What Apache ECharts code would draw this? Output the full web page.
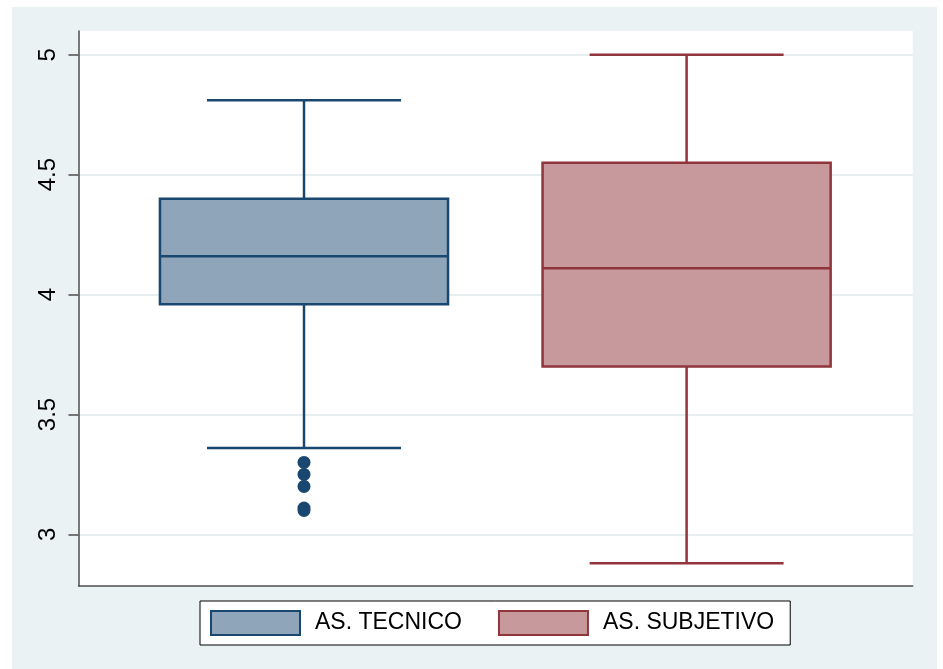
<!DOCTYPE html>
<html>
<head>
<meta charset="utf-8">
<script src="https://cdn.jsdelivr.net/npm/echarts@6/dist/echarts.min.js"></script>
<style>
  html, body { margin: 0; padding: 0; background: #fff; }
  #main { width: 943px; height: 669px; }
</style>
</head>
<body>
<div id="main"></div>
<script>
// grupos
const categories = ["AS. TECNICO", "AS. SUBJETIVO"];
// [min, q1, mediana, q3, max]
const tecnicoBox = [3.36, 3.96, 4.16, 4.40, 4.81];
const subjetivoBox = [2.88, 3.70, 4.11, 4.55, 5.0];
// valores atipicos de AS. TECNICO
const tecnicoOutliers = [3.30, 3.25, 3.20, 3.11, 3.10];
// etiquetas del eje y
const yTicks = [3, 3.5, 4, 4.5, 5];

const navy = "#1a476f";
const navyFill = "#8ea5ba";
const maroon = "#90353b";
const maroonFill = "#c8999c";

const yMin = 2.786;
const yMax = 5.099;

const chart = echarts.init(document.getElementById("main"));

// dibuja caja, mediana, bigotes y topes
const renderBox = (params, api) => {
  const cat = api.value(0);
  const low = api.coord([cat, api.value(1)]);
  const q1 = api.coord([cat, api.value(2)]);
  const med = api.coord([cat, api.value(3)]);
  const q3 = api.coord([cat, api.value(4)]);
  const high = api.coord([cat, api.value(5)]);
  const band = api.size([1, 0])[0];
  const boxW = band * 0.753;
  const capW = band * 0.507;
  const cx = med[0];
  const style = api.style();
  const stroke = { stroke: style.stroke, lineWidth: 2.5 };
  return {
    type: "group",
    children: [
      { type: "line", shape: { x1: cx, y1: high[1], x2: cx, y2: q3[1] }, style: stroke },
      { type: "line", shape: { x1: cx, y1: low[1], x2: cx, y2: q1[1] }, style: stroke },
      { type: "line", shape: { x1: cx - capW / 2, y1: high[1], x2: cx + capW / 2, y2: high[1] }, style: stroke },
      { type: "line", shape: { x1: cx - capW / 2, y1: low[1], x2: cx + capW / 2, y2: low[1] }, style: stroke },
      {
        type: "rect",
        shape: { x: cx - boxW / 2, y: q3[1], width: boxW, height: q1[1] - q3[1] },
        style: { fill: style.fill, stroke: style.stroke, lineWidth: 2.5 },
      },
      { type: "line", shape: { x1: cx - boxW / 2, y1: med[1], x2: cx + boxW / 2, y2: med[1] }, style: stroke },
    ],
  };
};

chart.setOption({
  backgroundColor: "#fff",
  animation: false,
  graphic: [
    {
      type: "rect",
      z: -10,
      silent: true,
      shape: { x: 12, y: 7, width: 925, height: 662 },
      style: { fill: "#eaf2f3" },
    },
  ],
  grid: [
    // area de ejes
    { left: 78.5, right: 30.3, top: 31, bottom: 83.3, show: true, backgroundColor: "#fff", borderWidth: 0 },
    // area de cajas
    { left: 112.7, right: 65.1, top: 31, bottom: 83.3 },
  ],
  xAxis: [
    {
      gridIndex: 0,
      type: "value",
      min: 0,
      max: 1,
      axisLine: { show: true, lineStyle: { color: "#4d4d4d", width: 1.5 } },
      axisTick: { show: false },
      axisLabel: { show: false },
      splitLine: { show: false },
    },
    {
      gridIndex: 1,
      type: "category",
      data: categories,
      show: false,
    },
  ],
  yAxis: [
    {
      gridIndex: 0,
      type: "value",
      min: yMin,
      max: yMax,
      axisLine: { show: true, lineStyle: { color: "#4d4d4d", width: 1.5 } },
      axisTick: { show: true, length: 10, customValues: yTicks, lineStyle: { color: "#4d4d4d", width: 1.5 } },
      axisLabel: {
        customValues: yTicks,
        rotate: 90,
        margin: 18,
        fontSize: 24,
        color: "#000",
        fontFamily: "Liberation Sans, Arial, sans-serif",
        formatter: (v) => String(v),
      },
      splitLine: { show: true, lineStyle: { color: "#e6eef0", width: 2 } },
    },
    {
      gridIndex: 1,
      type: "value",
      min: yMin,
      max: yMax,
      show: false,
      splitLine: { show: false },
    },
  ],
  legend: {
    left: 200,
    top: 601,
    orient: "horizontal",
    padding: [9, 16, 9, 10],
    backgroundColor: "#fff",
    borderColor: "#000",
    borderWidth: 1,
    borderRadius: 0,
    itemWidth: 89,
    itemHeight: 24,
    itemGap: 36,
    icon: "rect",
    textStyle: {
      fontSize: 23,
      color: "#000",
      fontFamily: "Liberation Sans, Arial, sans-serif",
      padding: [0, 0, 0, 10],
    },
    data: [
      { name: categories[0], itemStyle: { color: navyFill, borderColor: navy, borderWidth: 2 } },
      { name: categories[1], itemStyle: { color: maroonFill, borderColor: maroon, borderWidth: 2 } },
    ],
  },
  series: [
    {
      name: categories[0],
      type: "custom",
      xAxisIndex: 1,
      yAxisIndex: 1,
      renderItem: renderBox,
      itemStyle: { color: navyFill, borderColor: navy },
      encode: { x: 0, y: [1, 2, 3, 4, 5] },
      data: [[0, ...tecnicoBox]],
      z: 3,
    },
    {
      name: categories[1],
      type: "custom",
      xAxisIndex: 1,
      yAxisIndex: 1,
      renderItem: renderBox,
      itemStyle: { color: maroonFill, borderColor: maroon },
      encode: { x: 0, y: [1, 2, 3, 4, 5] },
      data: [[1, ...subjetivoBox]],
      z: 3,
    },
    {
      name: "atipicos",
      type: "scatter",
      xAxisIndex: 1,
      yAxisIndex: 1,
      symbol: "circle",
      symbolSize: 13,
      itemStyle: { color: navy, opacity: 1 },
      data: tecnicoOutliers.map((v) => [0, v]),
      z: 4,
    },
  ],
});
</script>
</body>
</html>
